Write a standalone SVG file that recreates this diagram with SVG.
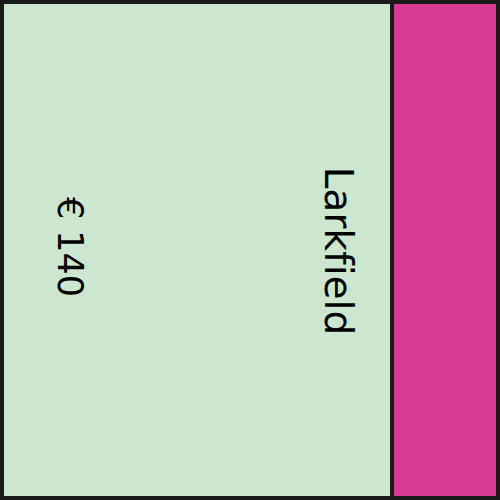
<svg xmlns="http://www.w3.org/2000/svg" width="500" height="500" viewBox="0 0 500 500">
<style>
.cell{stroke:#1a1a1a;stroke-width:3}
.lbl{font-family:"DejaVu Sans",sans-serif;fill:#000;text-anchor:middle;font-variant-ligatures:none}
</style>
<rect x="0" y="0" width="500" height="500" fill="#1a1a1a"/>
<g id="larkfield">
<rect class="cell" x="2.5" y="2.5" width="389" height="495" fill="#cde6cf"/>
<text class="lbl" font-size="39" transform="translate(325,251) rotate(90)">Larkfield</text>
<text class="lbl" font-size="35" transform="translate(58,247) rotate(90)">€ 140</text>
</g>
<g id="other">
<rect class="cell" x="392.5" y="2.5" width="105" height="495" fill="#d93a96"/>
</g>
</svg>
